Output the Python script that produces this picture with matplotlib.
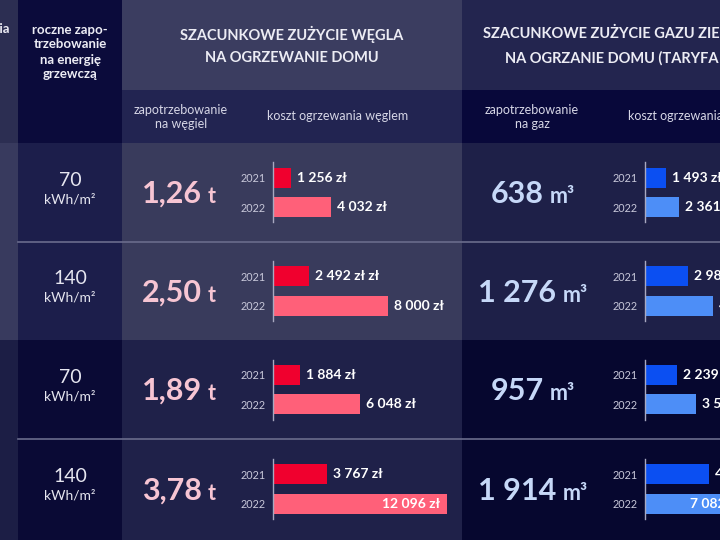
import matplotlib
matplotlib.use("Agg")
import matplotlib.pyplot as plt
from matplotlib.patches import Rectangle

plt.rcParams['font.family'] = ['Lato', 'DejaVu Sans']

energy = [70, 140, 70, 140]
coal_t = [1.26, 2.50, 1.89, 3.78]
gas_m3 = [638, 1276, 957, 1914]
years = ["2021", "2022"]
coal_2021 = [1256, 2492, 1884, 3767]
coal_2022 = [4032, 8000, 6048, 12096]
gas_2021 = [1493, 2986, 2239, 4478]
gas_2022 = [2361, 4722, 3541, 7082]
coal_2021_labels = ["1 256 zł", "2 492 zł zł", "1 884 zł", "3 767 zł"]


def pln(v):
    return f"{v:,}".replace(",", " ") + " zł"


def num(v):
    return f"{v:,}".replace(",", " ")


W, H = 720, 540
fig = plt.figure(figsize=(7.2, 5.4), dpi=100)
ax = fig.add_axes([0, 0, 1, 1])
ax.set_xlim(0, W)
ax.set_ylim(H, 0)
ax.axis('off')


def box(x0, y0, x1, y1, c):
    ax.add_patch(Rectangle((x0, y0), x1 - x0, y1 - y0, color=c, lw=0, zorder=0))


# background blocks
box(0, 0, 18, 143, '#2c2e52')
box(0, 143, 18, 340, '#383a5e')
box(0, 340, 18, 540, '#1c1e45')
box(18, 0, 122, 143, '#0b0b3b')
box(18, 143, 122, 340, '#1c1e4b')
box(18, 340, 122, 540, '#0a0a35')
box(122, 0, 462, 90, '#3b3d60')
box(122, 90, 462, 143, '#222451')
box(122, 143, 462, 340, '#393b5c')
box(122, 340, 462, 540, '#1f2149')
box(462, 0, 720, 90, '#23254f')
box(462, 90, 720, 143, '#08083a')
box(462, 143, 720, 340, '#1e2048')
box(462, 340, 720, 540, '#06072f')

for ys in [242, 439]:
    ax.plot([18, 720], [ys, ys], color='#6a6c8c', lw=1.2, zorder=1)

# headers
hc = '#ececf4'
ax.text(10, 29, "powierzchnia", ha='right', va='center', fontsize=9.5,
        weight='bold', color=hc)
ax.text(70, 52, "roczne zapo-\ntrzebowanie\nna energię\ngrzewczą", ha='center',
        va='center', fontsize=9.5, weight='bold', color=hc, linespacing=1.3)
ax.text(292, 34, "SZACUNKOWE ZUŻYCIE WĘGLA", ha='center', va='center',
        fontsize=10.5, weight='bold', color=hc)
ax.text(292, 58, "NA OGRZEWANIE DOMU", ha='center', va='center',
        fontsize=10.5, weight='bold', color=hc)
ax.text(483, 34, "SZACUNKOWE ZUŻYCIE GAZU ZIEMNEGO", ha='left', va='center',
        fontsize=10.5, weight='bold', color=hc)
ax.text(505, 58, "NA OGRZANIE DOMU (TARYFA W-3.6)", ha='left', va='center',
        fontsize=10.5, weight='bold', color=hc)

sc = '#d6d6e6'
ax.text(181, 117, "zapotrzebowanie\nna węgiel", ha='center', va='center',
        fontsize=9, color=sc, linespacing=1.25)
ax.text(338, 116, "koszt ogrzewania węglem", ha='center', va='center',
        fontsize=9, color=sc)
ax.text(532, 117, "zapotrzebowanie\nna gaz", ha='center', va='center',
        fontsize=9, color=sc, linespacing=1.25)
ax.text(628, 116, "koszt ogrzewania gazem", ha='left', va='center',
        fontsize=9, color=sc)

renderer = fig.canvas.get_renderer()


def big_value(xc, y, main, unit, color):
    t1 = ax.text(0, y, main, fontsize=22, weight='bold', color=color,
                 ha='left', va='baseline')
    t2 = ax.text(0, y, unit, fontsize=15.5, weight='bold', color=color,
                 ha='left', va='baseline')
    w1 = t1.get_window_extent(renderer).width
    w2 = t2.get_window_extent(renderer).width
    gap = 6
    x0 = xc - (w1 + gap + w2) / 2
    t1.set_x(x0)
    t2.set_x(x0 + w1 + gap)


row_mid = [192.5, 291, 389.5, 489]
px_per_zl = 0.0144


def bar_group(x0, width, yc, vals, labels, colors, top):
    bax = fig.add_axes([x0 / W, 1 - (yc + 30) / H, width / W, 60 / H])
    bax.set_facecolor('none')
    bax.barh([0, 1], vals, height=0.69, color=colors, zorder=2)
    bax.set_xlim(0, width / px_per_zl)
    bax.set_ylim(1.517, -0.517)
    bax.set_yticks([0, 1], years)
    bax.tick_params(axis='y', length=0, pad=5, labelsize=7.8, labelcolor='#c8c8da')
    bax.set_xticks([])
    for s in ['top', 'right', 'bottom']:
        bax.spines[s].set_visible(False)
    bax.spines['left'].set_color('#a8a8c0')
    bax.spines['left'].set_linewidth(1)
    for i, (v, lab) in enumerate(zip(vals, labels)):
        inside = v == top  # largest bar of the column carries its label inside
        bax.annotate(lab, (v, i), xytext=(-7 if inside else 6, 0),
                     textcoords='offset pixels', ha='right' if inside else 'left',
                     va='center', fontsize=10, weight='bold', color='white',
                     annotation_clip=False, zorder=3)


for r in range(4):
    yc = row_mid[r]
    ax.text(70, yc - 12, str(energy[r]), ha='center', va='center',
            fontsize=14, color='#e6e6f0')
    ax.text(70, yc + 7, "kWh/m²", ha='center', va='center',
            fontsize=10, color='#e6e6f0')
    big_value(179, yc + 10.5, f"{coal_t[r]:.2f}".replace(".", ","), "t", '#f7c5d3')
    big_value(533, yc + 10.5, num(gas_m3[r]), "m³", '#c6d8f8')
    bar_group(273, 189, yc, [coal_2021[r], coal_2022[r]],
              [coal_2021_labels[r], pln(coal_2022[r])], ['#f0002e', '#ff6079'],
              max(coal_2022))
    bar_group(645, 75, yc, [gas_2021[r], gas_2022[r]],
              [pln(gas_2021[r]), pln(gas_2022[r])], ['#0b4ff2', '#4d8ef7'],
              max(gas_2022))

fig.savefig("out.png", dpi=100)
